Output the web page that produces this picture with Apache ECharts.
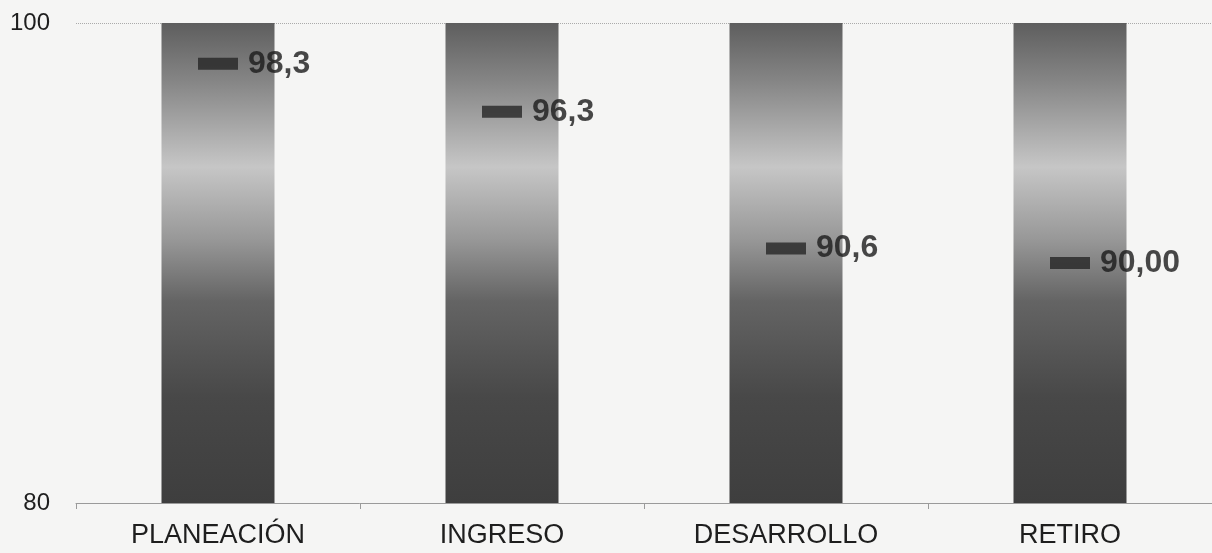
<!DOCTYPE html>
<html>
<head>
<meta charset="utf-8">
<script src="https://cdn.jsdelivr.net/npm/echarts@6/dist/echarts.min.js"></script>
<style>
  html, body { margin: 0; padding: 0; background: #f5f5f4; }
  #chart { width: 1212px; height: 553px; }
</style>
</head>
<body>
<div id="chart"></div>
<script>
// etapas y valores
var categories = ["PLANEACIÓN", "INGRESO", "DESARROLLO", "RETIRO"];
var barTop = [100, 100, 100, 100];
var scores = [98.3, 96.3, 90.6, 90.0];
var scoreLabels = ["98,3", "96,3", "90,6", "90,00"];

var chart = echarts.init(document.getElementById("chart"));

var barGradient = new echarts.graphic.LinearGradient(0, 0, 0, 1, [
  { offset: 0, color: "#5e5e5e" },
  { offset: 0.12, color: "#858585" },
  { offset: 0.3, color: "#c6c6c6" },
  { offset: 0.45, color: "#989898" },
  { offset: 0.58, color: "#646464" },
  { offset: 0.78, color: "#484848" },
  { offset: 1, color: "#3e3e3e" },
]);

var option = {
  backgroundColor: "#f5f5f4",
  animation: false,
  grid: { left: 76, width: 1144, top: 23, bottom: 50 },
  xAxis: {
    type: "category",
    data: categories,
    axisLine: { lineStyle: { color: "#9a9a9a", width: 1 } },
    axisTick: { show: true, length: 6, lineStyle: { color: "#9a9a9a" } },
    axisLabel: {
      color: "#1e1e1e",
      fontSize: 27,
      fontFamily: "Liberation Sans, Arial",
      margin: 19,
    },
  },
  yAxis: {
    type: "value",
    min: 80,
    max: 100,
    interval: 20,
    axisLine: { show: false },
    axisTick: { show: false },
    splitLine: { lineStyle: { color: "#aaa", type: "dotted" } },
    axisLabel: {
      color: "#1e1e1e",
      fontSize: 24,
      fontFamily: "Liberation Sans, Arial",
      margin: 26,
    },
  },
  series: [
    {
      type: "bar",
      data: barTop,
      barWidth: 113,
      itemStyle: { color: barGradient },
      z: 1,
    },
    {
      type: "scatter",
      data: scores,
      symbol: "rect",
      symbolSize: [40, 12],
      itemStyle: { color: "#262626", borderRadius: 3 },
      label: {
        show: true,
        position: "right",
        distance: 10,
        color: "#1a1a1a",
        fontSize: 32,
        fontWeight: "bold",
        fontFamily: "Liberation Sans, Arial",
        formatter: function (p) {
          return scoreLabels[p.dataIndex];
        },
      },
      z: 3,
    },
  ],
};

chart.setOption(option);
</script>
</body>
</html>
